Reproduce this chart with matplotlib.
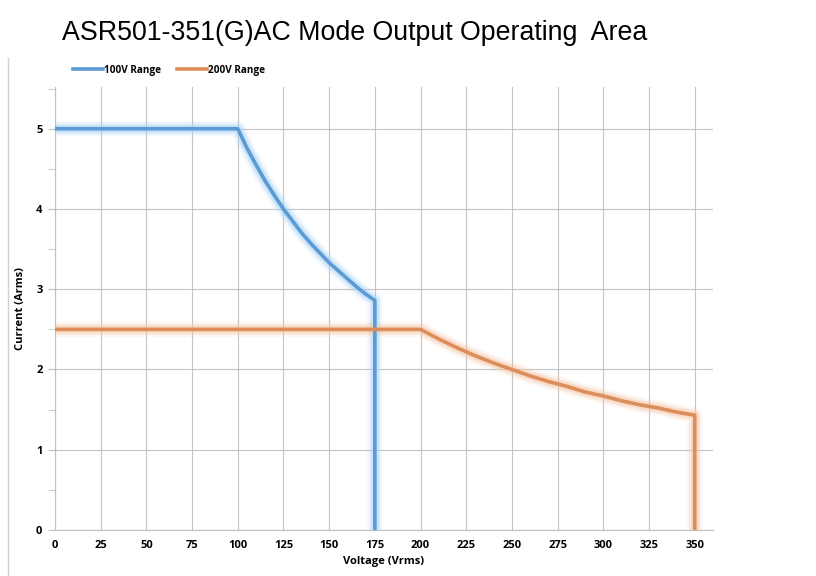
import matplotlib
matplotlib.use("Agg")
import matplotlib.pyplot as plt
from matplotlib.lines import Line2D
from matplotlib.ticker import MultipleLocator

# data
v100 = [0, 100, 105, 110, 115, 120, 125, 130, 135, 140, 145, 150, 155, 160, 165, 170, 175, 175]
i100 = [5.0, 5.0, 4.76, 4.55, 4.35, 4.17, 4.0, 3.85, 3.70, 3.57, 3.45, 3.33, 3.23, 3.13,
        3.03, 2.94, 2.86, 0.0]
v200 = [0, 200, 210, 220, 230, 240, 250, 260, 270, 280, 290, 300, 310, 320, 330, 340, 350, 350]
i200 = [2.5, 2.5, 2.38, 2.27, 2.17, 2.08, 2.0, 1.92, 1.85, 1.79, 1.72, 1.67, 1.61, 1.56,
        1.52, 1.47, 1.43, 0.0]
series = ["100V Range", "200V Range"]
xticks = list(range(0, 351, 25))
yticks = [0, 1, 2, 3, 4, 5]

blue = "#5b9bd5"
orange = "#dd8d5a"

fig = plt.figure(figsize=(8.16, 5.76), dpi=100)
ax = fig.add_axes([55 / 816, 1 - 530 / 576, (713 - 55) / 816, (530 - 87) / 576])

for x, y, c, glow, lab in [(v100, i100, blue, "#a9d3f5", series[0]),
                           (v200, i200, orange, "#f5c6a6", series[1])]:
    for w, a in [(11, 0.15), (8, 0.25), (5.5, 0.4)]:
        ax.plot(x, y, color=glow, lw=w, alpha=a, solid_capstyle="butt",
                solid_joinstyle="round", zorder=2)
    ax.plot(x, y, color=c, lw=2.6, solid_capstyle="butt", solid_joinstyle="round",
            zorder=3, label=lab)

ax.set_xlim(0, 360)
ax.set_ylim(0, 5.52)
ax.set_xticks(xticks)
ax.set_yticks(yticks)
ax.yaxis.set_minor_locator(MultipleLocator(0.5))
ax.grid(True, which="major", color="#c4c4c4", lw=0.8)
ax.set_axisbelow(True)
for s in ["top", "right"]:
    ax.spines[s].set_visible(False)
for s in ["left", "bottom"]:
    ax.spines[s].set_color("#c0c0c0")
ax.tick_params(axis="x", length=0, pad=7, labelsize=8)
ax.tick_params(axis="y", which="major", length=5, color="#c0c0c0", pad=4, labelsize=8)
ax.tick_params(axis="y", which="minor", length=5, color="#c0c0c0")
for lbl in ax.get_xticklabels() + ax.get_yticklabels():
    lbl.set_fontweight("bold")
    lbl.set_fontfamily("Open Sans")
ax.set_xlabel("Voltage (Vrms)", fontsize=8, fontweight="bold", family="Open Sans", labelpad=4)
ax.set_ylabel("Current (Arms)", fontsize=8, fontweight="bold", family="Open Sans", labelpad=7)

handles = [Line2D([], [], color=blue, lw=2.6), Line2D([], [], color=orange, lw=2.6)]
fig.legend(handles, series, loc="center left", bbox_to_anchor=(64 / 816, 1 - 70 / 576),
           ncol=2, frameon=False, handlelength=3.0, handletextpad=0.1, columnspacing=1.6,
           prop={"family": "Open Sans", "weight": "bold", "size": 7.2})

fig.text(62 / 816, 1 - 33 / 576, "ASR501-351(G)AC Mode Output Operating  Area",
         fontsize=19.3, family="Liberation Sans", va="center", ha="left")

fig.add_artist(Line2D([8 / 816, 8 / 816], [0, 1 - 58 / 576], color="#d0d0d0", lw=1,
                      transform=fig.transFigure))

fig.savefig("out.png", dpi=100)
